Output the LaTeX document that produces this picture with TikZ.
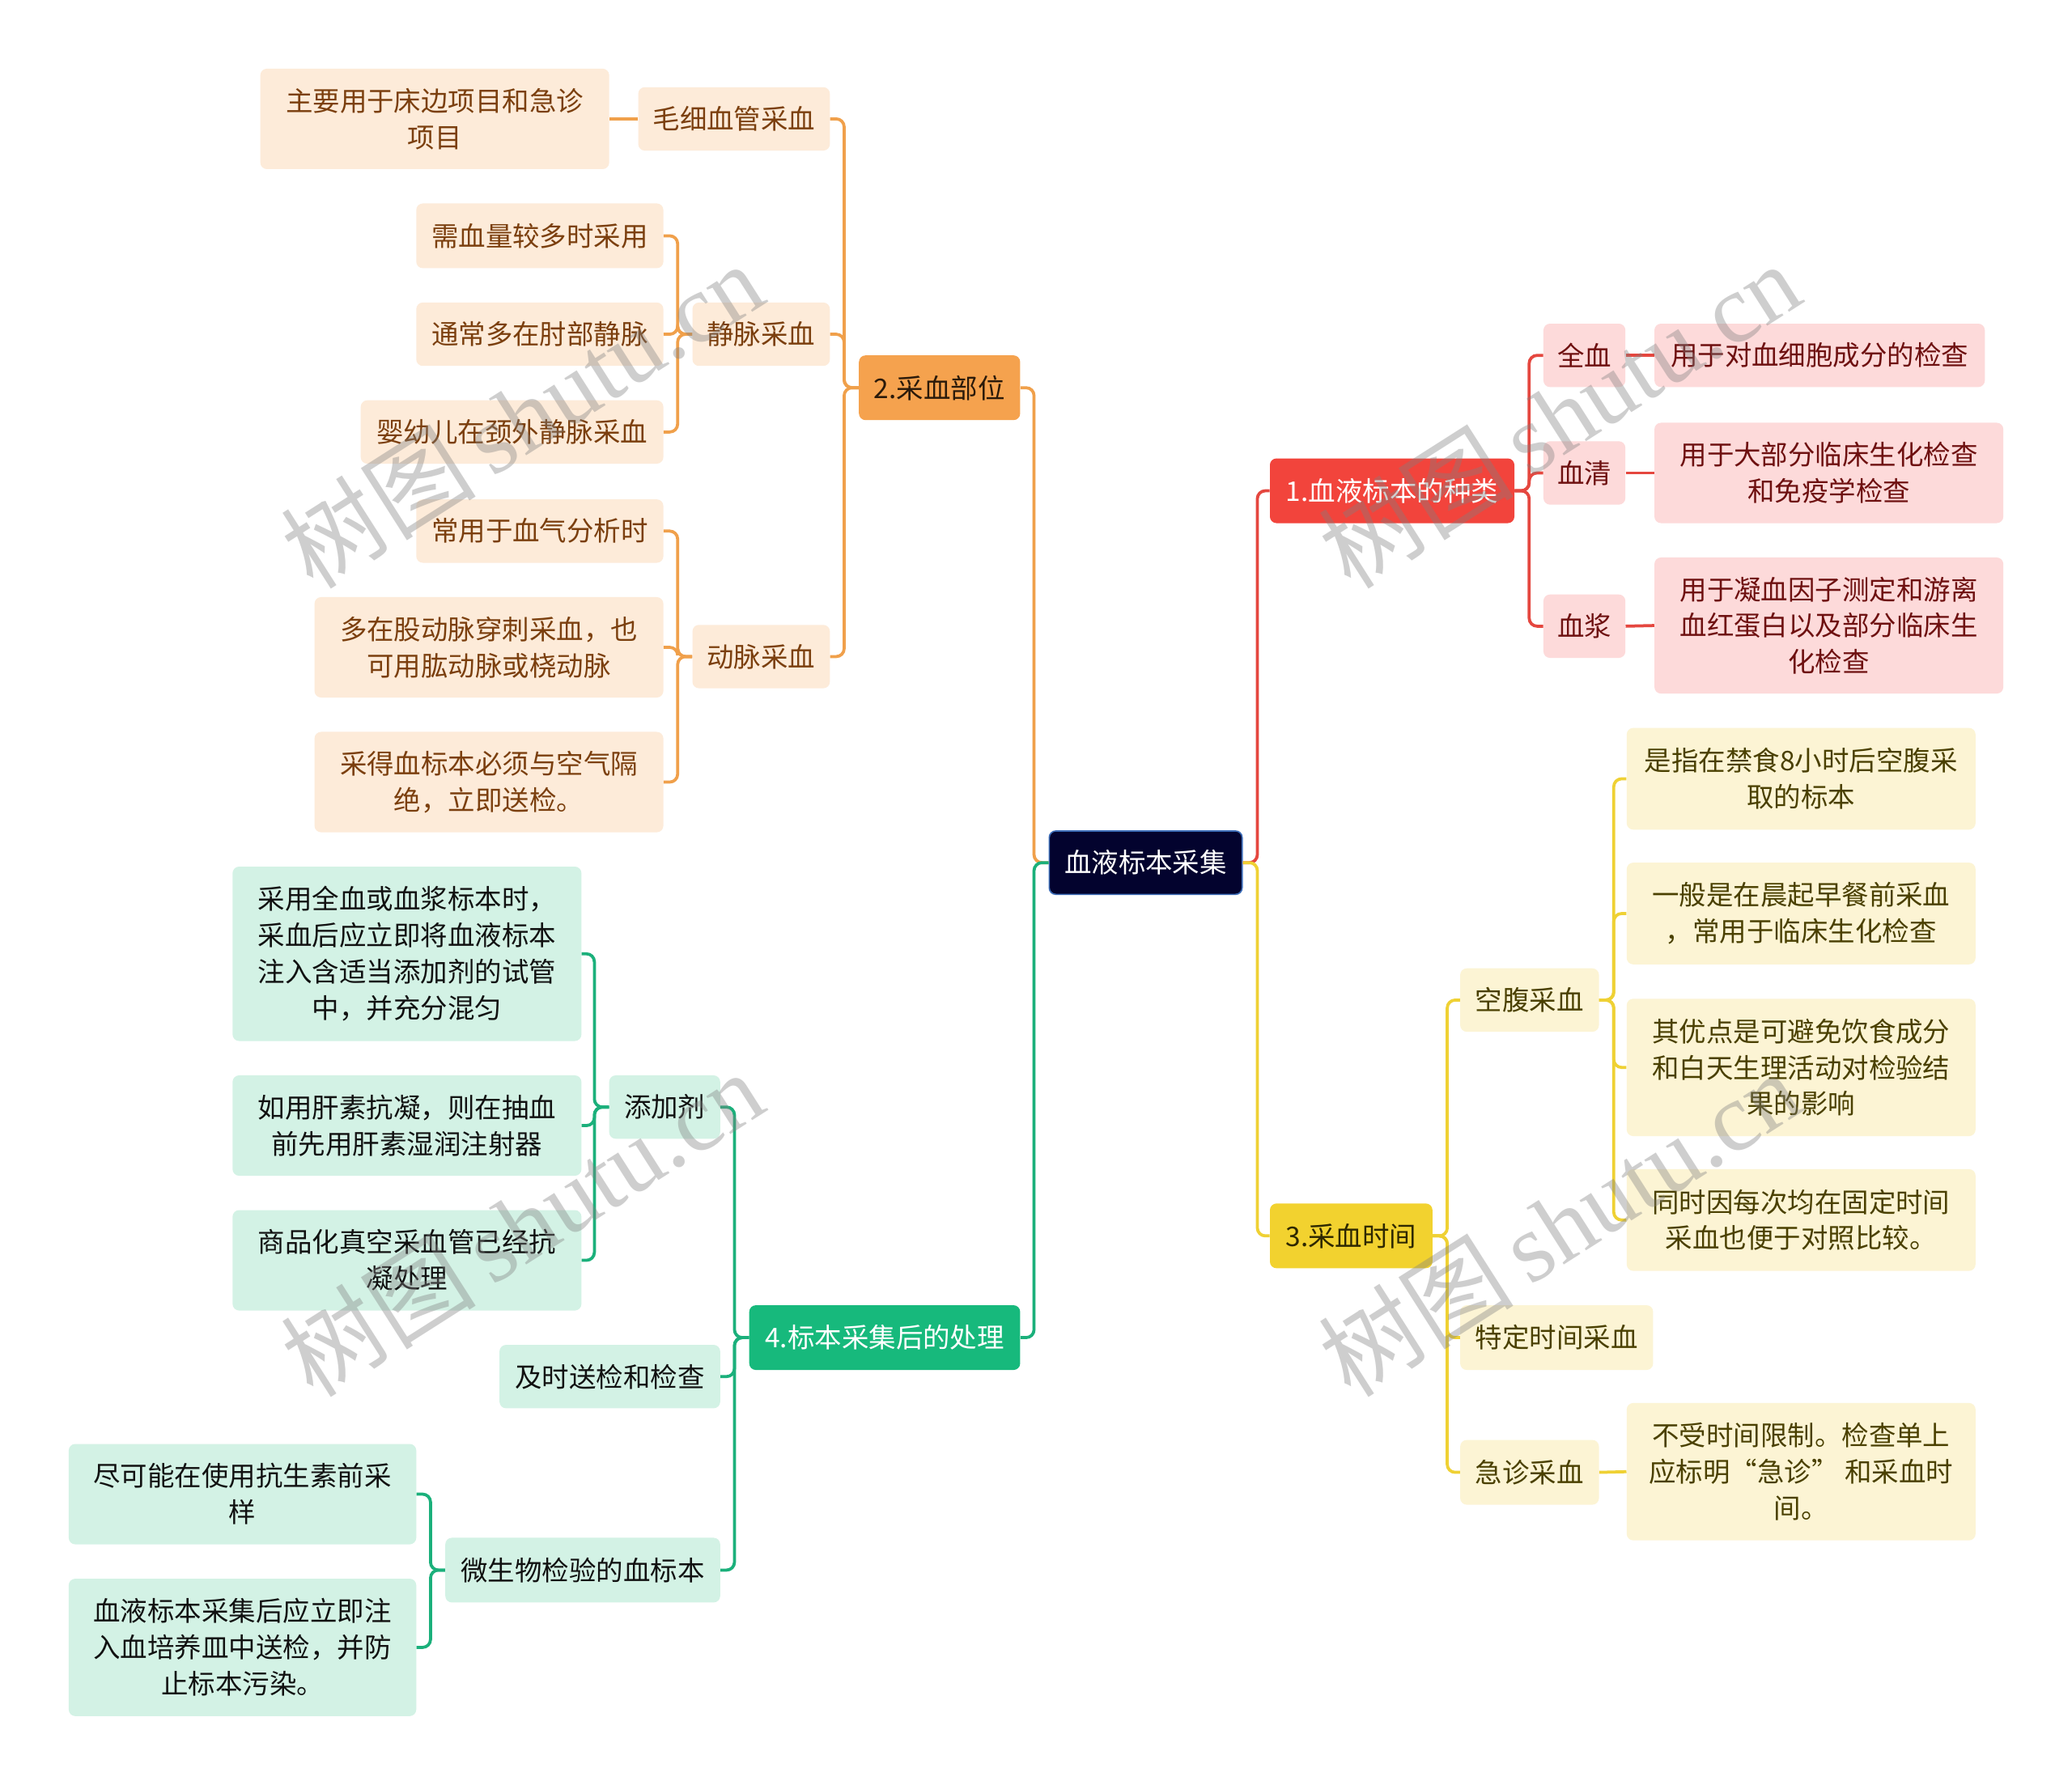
\documentclass[tikz,border=0pt]{standalone}
\usepackage{fontspec}
\setmainfont{Noto Sans CJK SC}
\newfontfamily\wmlatin{Liberation Serif}
\definecolor{oL}{HTML}{F0A04B}
\definecolor{oF}{HTML}{FDEBD9}
\definecolor{oT}{HTML}{7B3F0E}
\definecolor{oM}{HTML}{F5A24E}
\definecolor{oMT}{HTML}{2B1A0A}
\definecolor{rL}{HTML}{E5473F}
\definecolor{rF}{HTML}{FDDADA}
\definecolor{rT}{HTML}{6E1010}
\definecolor{rM}{HTML}{F2443C}
\definecolor{yL}{HTML}{EFD134}
\definecolor{yF}{HTML}{FCF4D4}
\definecolor{yT}{HTML}{4A4000}
\definecolor{yM}{HTML}{F2D22F}
\definecolor{yMT}{HTML}{2E2800}
\definecolor{gL}{HTML}{1BB07B}
\definecolor{gF}{HTML}{D3F2E5}
\definecolor{gT}{HTML}{111111}
\definecolor{gM}{HTML}{17B97C}
\definecolor{rootF}{HTML}{03032E}
\definecolor{rootB}{HTML}{3D6DB8}
\newcommand\bxnode[7]{\node[#2, minimum width={#5-#3}, minimum height={#6-#4}] (#1) at ({(#3+#5)/2},{(#4+#6)/2}) {#7};}
\begin{document}
\begin{tikzpicture}[x=1pt,y=-1pt,
  box/.style={rectangle, rounded corners=5pt, inner sep=0pt, align=center, font=\fontsize{20.5}{27.5}\selectfont},
  ob/.style={box, fill=oF, text=oT},
  rb/.style={box, fill=rF, text=rT},
  yb/.style={box, fill=yF, text=yT},
  gb/.style={box, fill=gF, text=gT},
  conn/.style={line width=2.3pt, rounded corners=6pt},
  ol/.style={conn, draw=oL},
  rl/.style={conn, draw=rL},
  yl/.style={conn, draw=yL},
  gl/.style={conn, draw=gL},
  wm/.style={text=gray, opacity=0.38, rotate=32.5, inner sep=0pt}
]
\useasboundingbox (0,0) rectangle (1568,1351);
\fill[white] (0,0) rectangle (1568,1351);

% root and main branches
\bxnode{root}{box, fill=rootF, draw=rootB, line width=1pt, text=white}{794}{629}{940}{677}{血液标本采集}
\bxnode{b1}{box, fill=rM, text=white}{961}{347}{1146}{396}{1.血液标本的种类}
\bxnode{b2}{box, fill=oM, text=oMT}{650}{269}{772}{318}{2.采血部位}
\bxnode{b3}{box, fill=yM, text=yMT}{961}{911}{1084}{960}{3.采血时间}
\bxnode{b4}{box, fill=gM, text=white}{567}{988}{772}{1037}{4.标本采集后的处理}

% branch 2
\bxnode{a1}{ob}{483}{66}{628}{114}{毛细血管采血}
\bxnode{a1a}{ob}{197}{52}{461}{128}{主要用于床边项目和急诊\\项目}
\bxnode{a2}{ob}{524}{229}{628}{277}{静脉采血}
\bxnode{a2a}{ob}{315}{154}{502}{203}{需血量较多时采用}
\bxnode{a2b}{ob}{315}{229}{502}{277}{通常多在肘部静脉}
\bxnode{a2c}{ob}{273}{303}{502}{351}{婴幼儿在颈外静脉采血}
\bxnode{a3}{ob}{524}{473}{628}{521}{动脉采血}
\bxnode{a3a}{ob}{315}{378}{502}{426}{常用于血气分析时}
\bxnode{a3b}{ob}{238}{452}{502}{528}{多在股动脉穿刺采血，也\\可用肱动脉或桡动脉}
\bxnode{a3c}{ob}{238}{554}{502}{630}{采得血标本必须与空气隔\\绝，立即送检。}

% branch 1
\bxnode{r1}{rb}{1168}{245}{1230}{293}{全血}
\bxnode{r1a}{rb}{1252}{245}{1502}{293}{用于对血细胞成分的检查}
\bxnode{r2}{rb}{1168}{334}{1230}{382}{血清}
\bxnode{r2a}{rb}{1252}{320}{1516}{396}{用于大部分临床生化检查\\和免疫学检查}
\bxnode{r3}{rb}{1168}{450}{1230}{498}{血浆}
\bxnode{r3a}{rb}{1252}{422}{1516}{525}{用于凝血因子测定和游离\\血红蛋白以及部分临床生\\化检查}

% branch 3
\bxnode{y1}{yb}{1105}{733}{1210}{781}{空腹采血}
\bxnode{y1a}{yb}{1231}{551}{1495}{628}{是指在禁食8小时后空腹采\\取的标本}
\bxnode{y1b}{yb}{1231}{653}{1495}{730}{一般是在晨起早餐前采血\\，常用于临床生化检查}
\bxnode{y1c}{yb}{1231}{756}{1495}{860}{其优点是可避免饮食成分\\和白天生理活动对检验结\\果的影响}
\bxnode{y1d}{yb}{1231}{885}{1495}{962}{同时因每次均在固定时间\\采血也便于对照比较。}
\bxnode{y2}{yb}{1105}{988}{1251}{1037}{特定时间采血}
\bxnode{y3}{yb}{1105}{1090}{1210}{1139}{急诊采血}
\bxnode{y3a}{yb}{1231}{1062}{1495}{1166}{不受时间限制。检查单上\\应标明“急诊” 和采血时\\间。}

% branch 4
\bxnode{g1}{gb}{461}{814}{545}{862}{添加剂}
\bxnode{g1a}{gb}{176}{656}{440}{788}{采用全血或血浆标本时，\\采血后应立即将血液标本\\注入含适当添加剂的试管\\中，并充分混匀}
\bxnode{g1b}{gb}{176}{814}{440}{890}{如用肝素抗凝，则在抽血\\前先用肝素湿润注射器}
\bxnode{g1c}{gb}{176}{916}{440}{992}{商品化真空采血管已经抗\\凝处理}
\bxnode{g2}{gb}{378}{1018}{545}{1066}{及时送检和检查}
\bxnode{g3}{gb}{337}{1164}{545}{1213}{微生物检验的血标本}
\bxnode{g3a}{gb}{52}{1093}{315}{1169}{尽可能在使用抗生素前采\\样}
\bxnode{g3b}{gb}{52}{1195}{315}{1299}{血液标本采集后应立即注\\入血培养皿中送检，并防\\止标本污染。}

% connectors: root
\draw[ol] (root.west) -- ++(-11,0) |- (b2.east);
\draw[gl] (root.west) -- ++(-11,0) |- (b4.east);
\draw[rl] (root.east) -- ++(11,0) |- (b1.west);
\draw[yl] (root.east) -- ++(11,0) |- (b3.west);

% branch 2
\foreach \c in {a1,a2,a3} \draw[ol] (b2.west) -- ++(-11,0) |- (\c.east);
\draw[ol] (a1.west) -- (a1a.east);
\foreach \c in {a2a,a2b,a2c} \draw[ol] (a2.west) -- ++(-11,0) |- (\c.east);
\foreach \c in {a3a,a3b,a3c} \draw[ol] (a3.west) -- ++(-11,0) |- (\c.east);

% branch 1
\foreach \c in {r1,r2,r3} \draw[rl] (b1.east) -- ++(11,0) |- (\c.west);
\draw[rl] (r1.east) -- (r1a.west);
\draw[rl] (r2.east) -- (r2a.west);
\draw[rl] (r3.east) -- (r3a.west);

% branch 3
\foreach \c in {y1,y2,y3} \draw[yl] (b3.east) -- ++(11,0) |- (\c.west);
\foreach \c in {y1a,y1b,y1c,y1d} \draw[yl] (y1.east) -- ++(11,0) |- (\c.west);
\draw[yl] (y3.east) -- (y3a.west);

% branch 4
\foreach \c in {g1,g2,g3} \draw[gl] (b4.west) -- ++(-11,0) |- (\c.east);
\foreach \c in {g1a,g1b,g1c} \draw[gl] (g1.west) -- ++(-11,0) |- (\c.east);
\foreach \c in {g3a,g3b} \draw[gl] (g3.west) -- ++(-11,0) |- (\c.east);

% watermarks
\node[wm] (wm1) at (395,314) {\fontsize{74}{74}\selectfont 树图\,{\wmlatin shutu.cn}};
\node[wm] (wm2) at (1180,314) {\fontsize{74}{74}\selectfont 树图\,{\wmlatin shutu.cn}};
\node[wm] (wm3) at (395,926) {\fontsize{74}{74}\selectfont 树图\,{\wmlatin shutu.cn}};
\node[wm] (wm4) at (1180,926) {\fontsize{74}{74}\selectfont 树图\,{\wmlatin shutu.cn}};
\end{tikzpicture}
\end{document}
